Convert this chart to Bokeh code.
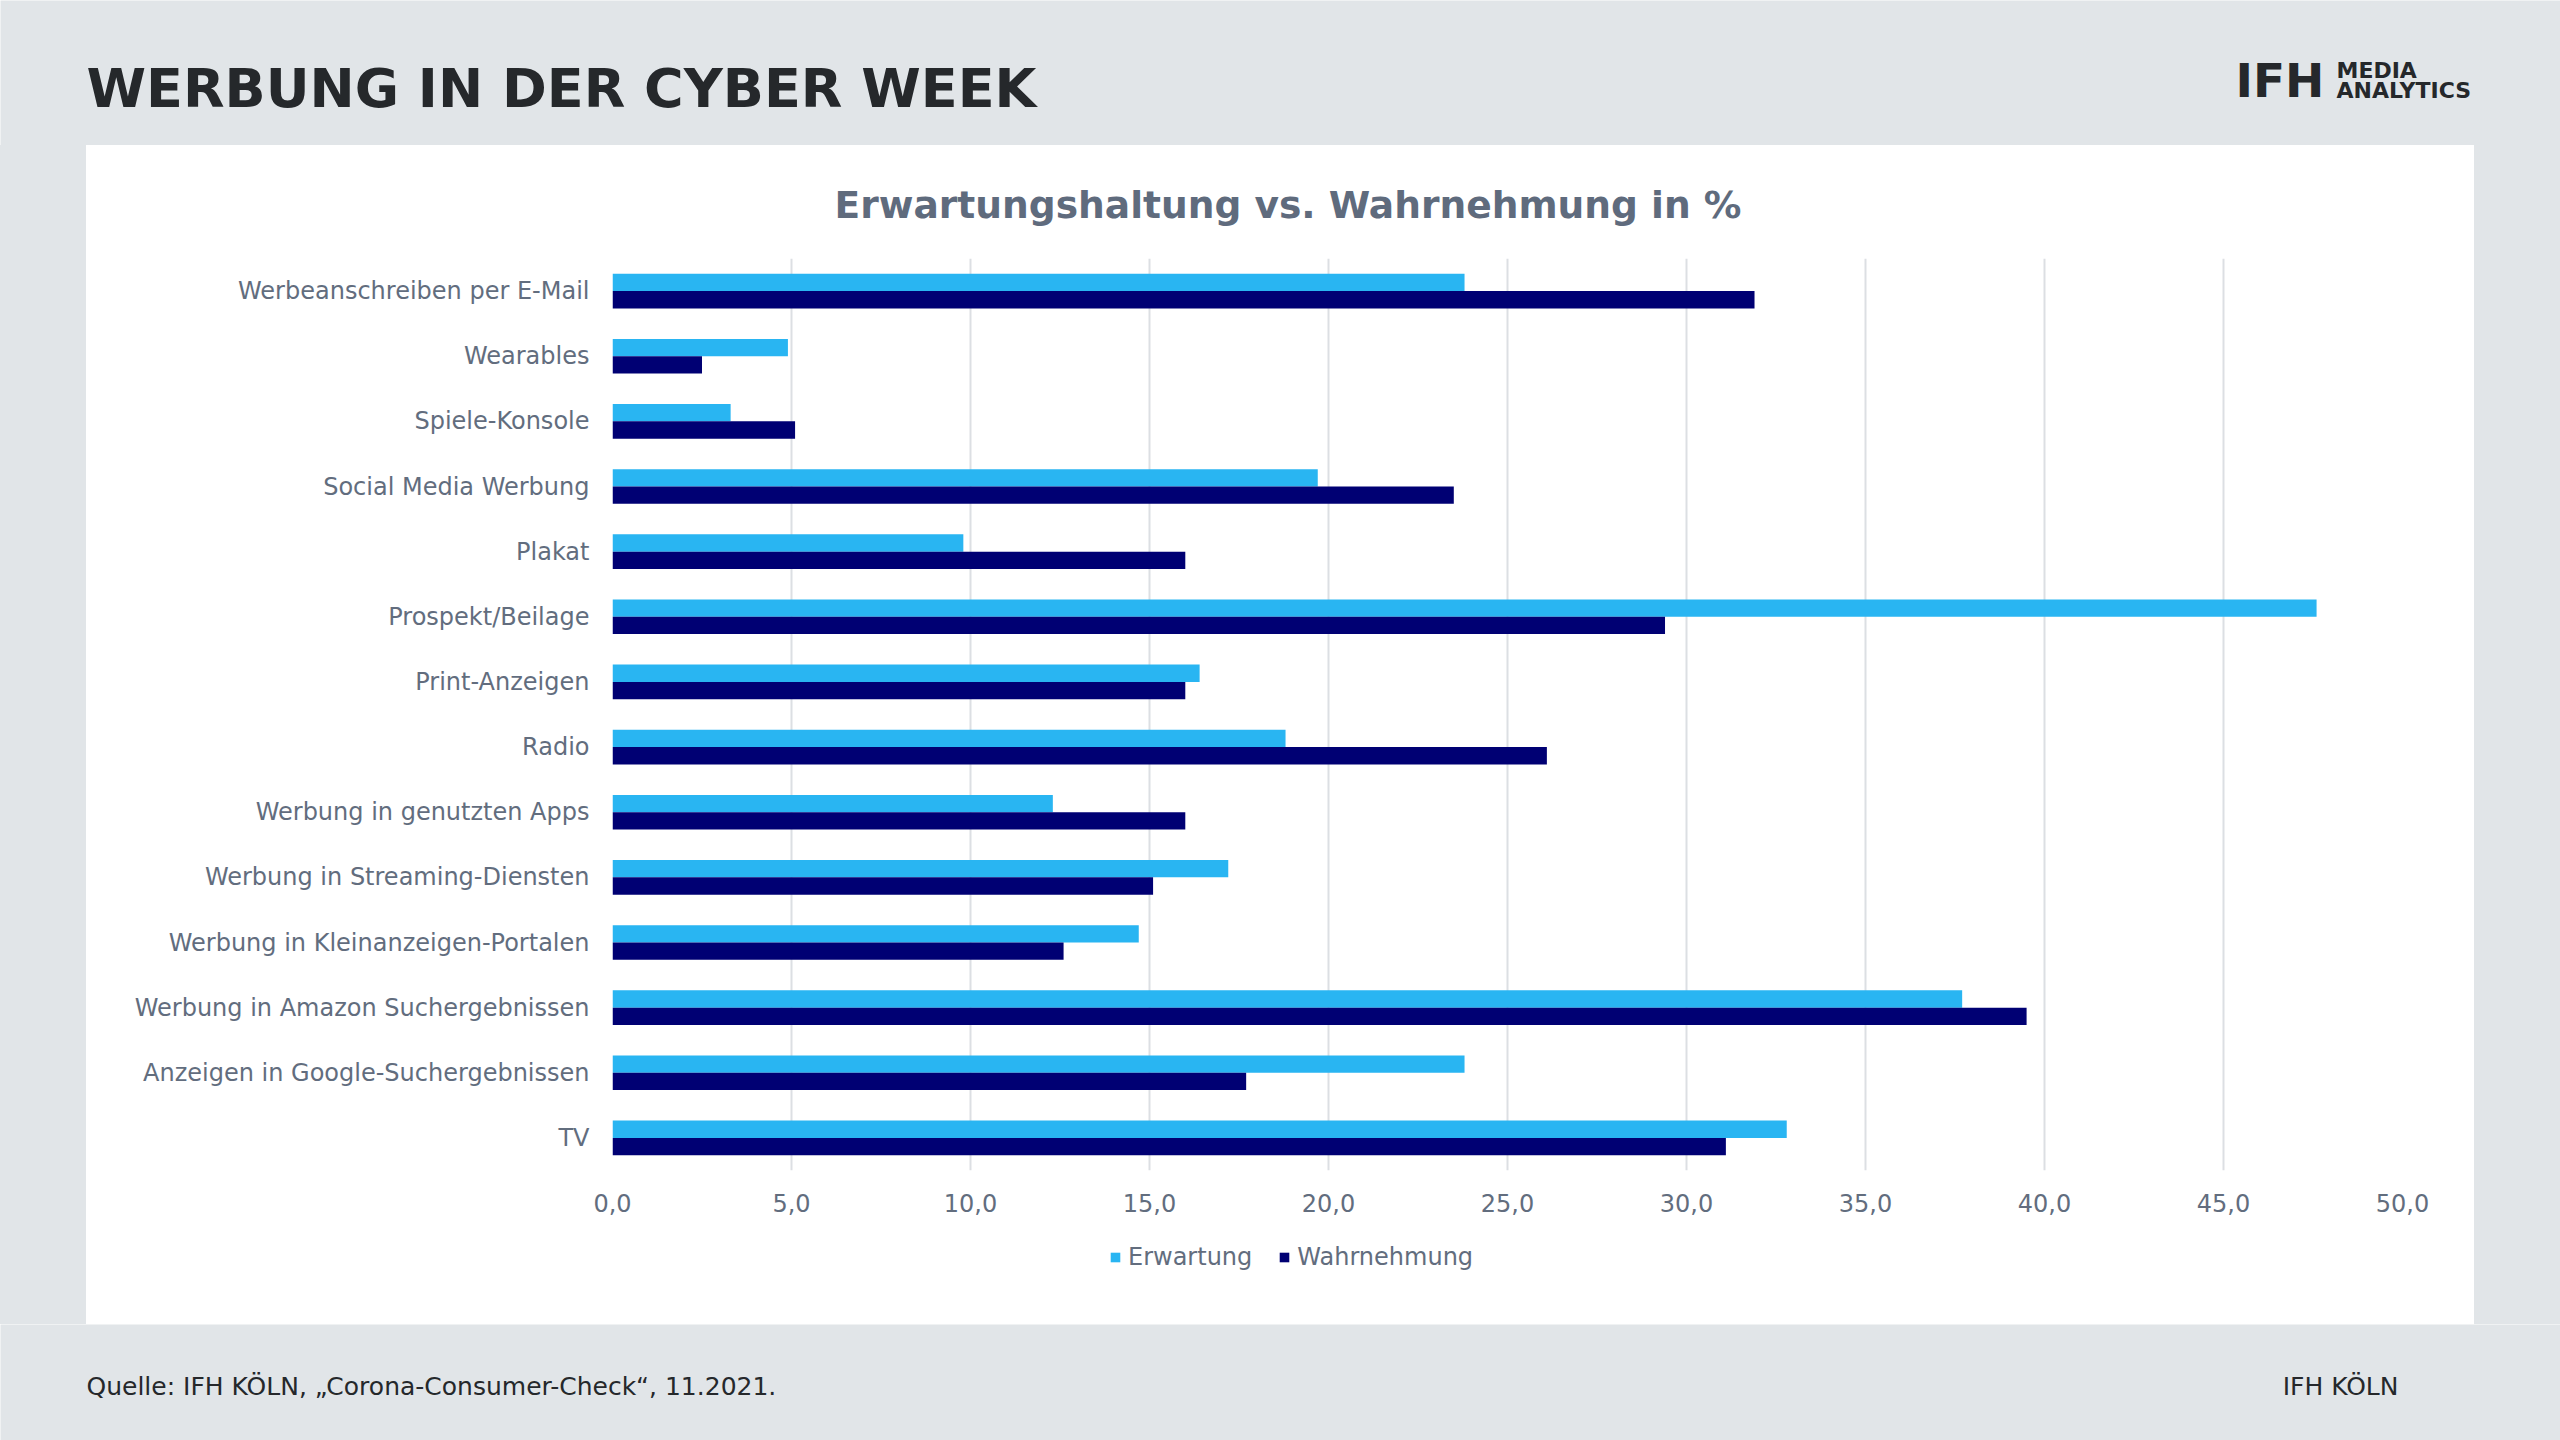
from bokeh.plotting import figure
from bokeh.models import (FactorRange, Range1d, FixedTicker, CustomJSTickFormatter,
                          Legend, LegendItem, ColumnDataSource, Spacer)
from bokeh.layouts import column, row
from bokeh.transform import dodge
from bokeh.core.properties import value
from bokeh.core.validation import silence
from bokeh.core.validation.warnings import MISSING_RENDERERS
from bokeh.embed import file_html
from bokeh.resources import INLINE

silence(MISSING_RENDERERS, True)

# ---------------- data ----------------
categories = [
    "Werbeanschreiben per E-Mail",
    "Wearables",
    "Spiele-Konsole",
    "Social Media Werbung",
    "Plakat",
    "Prospekt/Beilage",
    "Print-Anzeigen",
    "Radio",
    "Werbung in genutzten Apps",
    "Werbung in Streaming-Diensten",
    "Werbung in Kleinanzeigen-Portalen",
    "Werbung in Amazon Suchergebnissen",
    "Anzeigen in Google-Suchergebnissen",
    "TV",
]
erwartung = [23.8, 4.9, 3.3, 19.7, 9.8, 47.6, 16.4, 18.8, 12.3, 17.2, 14.7, 37.7, 23.8, 32.8]
wahrnehmung = [31.9, 2.5, 5.1, 23.5, 16.0, 29.4, 16.0, 26.1, 16.0, 15.1, 12.6, 39.5, 17.7, 31.1]
series_names = ["Erwartung", "Wahrnehmung"]
x_ticks = [0, 5, 10, 15, 20, 25, 30, 35, 40, 45, 50]

main_title = "WERBUNG IN DER CYBER WEEK"
chart_title = "Erwartungshaltung vs. Wahrnehmung in %"
source_note = "Quelle: IFH KÖLN, „Corona-Consumer-Check“, 11.2021."
brand_note = "IFH KÖLN"

# ---------------- style ----------------
BG = "#E1E5E8"
DARK = "#25282B"
GREY = "#626D7E"
C_ERW = "#29B5F2"
C_WAH = "#000073"
FONT = "DejaVu Sans"

TOTAL_W = 2560
HEADER_H = 145
PANEL_W = 2388
PAD_L = 86
PAD_R = TOTAL_W - PANEL_W - PAD_L
PANEL_H = 1179
CHART_H = 1085
LEG_H = PANEL_H - CHART_H
FOOTER_H = 116


def blank(w, h, fill):
    f = figure(width=w, height=h, x_range=Range1d(0, w), y_range=Range1d(0, h),
               x_axis_type=None, y_axis_type=None, toolbar_location=None,
               output_backend="svg", min_border=0)
    f.outline_line_color = None
    f.background_fill_color = fill
    f.border_fill_color = fill
    return f


# ---------------- header ----------------
header = blank(TOTAL_W, HEADER_H, BG)
header.text(x=[86], y=[HEADER_H - 88], text=[main_title], text_font=value(FONT),
            text_font_style="bold", text_font_size="54px", text_color=DARK,
            text_align="left", text_baseline="middle")
header.text(x=[2235], y=[HEADER_H - 80], text=["IFH"], text_font=value(FONT),
            text_font_style="bold", text_font_size="47px", text_color=DARK,
            text_align="left", text_baseline="middle")
header.text(x=[2336, 2336], y=[HEADER_H - 70, HEADER_H - 90], text=["MEDIA", "ANALYTICS"],
            text_font=value(FONT), text_font_style="bold", text_font_size="22px",
            text_color=DARK, text_align="left", text_baseline="middle")

# ---------------- chart ----------------
src = ColumnDataSource(dict(cat=categories, erw=erwartung, wah=wahrnehmung))

p = figure(width=PANEL_W, height=CHART_H,
           y_range=FactorRange(factors=categories[::-1], range_padding=0),
           x_range=Range1d(0, 50),
           toolbar_location=None, output_backend="svg",
           min_border_left=526, min_border_right=72,
           min_border_top=113, min_border_bottom=CHART_H - 113 - 912)
p.outline_line_color = None
p.background_fill_color = "white"
p.border_fill_color = "white"

p.title.text = chart_title
p.title.align = "left"
p.title.offset = 222
p.title.text_font = FONT
p.title.text_font_style = "bold"
p.title.text_font_size = "37.6px"
p.title.text_color = "#5F6B7D"
p.title.standoff = 64

bar_h = 0.266
r1 = p.hbar(y=dodge("cat", bar_h / 2, range=p.y_range), right="erw", left=0, height=bar_h,
            source=src, fill_color=C_ERW, line_color=None)
r2 = p.hbar(y=dodge("cat", -bar_h / 2, range=p.y_range), right="wah", left=0, height=bar_h,
            source=src, fill_color=C_WAH, line_color=None)

p.xaxis.ticker = FixedTicker(ticks=x_ticks)
p.xaxis.formatter = CustomJSTickFormatter(code="return tick.toFixed(1).replace('.', ',');")
for ax in (p.xaxis, p.yaxis):
    ax.axis_line_color = None
    ax.major_tick_line_color = None
    ax.minor_tick_line_color = None
    ax.major_label_text_font = FONT
    ax.major_label_text_font_size = "24px"
    ax.major_label_text_color = GREY
p.xaxis.major_label_standoff = 17
p.yaxis.major_label_standoff = 17

p.ygrid.grid_line_color = None
p.xgrid.grid_line_color = "#DCDFE3"
p.xgrid.grid_line_width = 2

# ---------------- legend strip (proxy glyphs, kept outside the visible range) ----------------
leg = figure(width=PANEL_W, height=LEG_H, x_range=Range1d(0, 1), y_range=Range1d(0, 1),
             x_axis_type=None, y_axis_type=None, toolbar_location=None,
             output_backend="svg", min_border=0)
leg.outline_line_color = None
leg.background_fill_color = "white"
leg.border_fill_color = "white"
proxy = dict(y=[5], right=[0])
l1 = leg.hbar(y="y", right="right", left=0, height=0.1, source=ColumnDataSource(proxy),
              fill_color=C_ERW, line_color=None)
l2 = leg.hbar(y="y", right="right", left=0, height=0.1, source=ColumnDataSource(proxy),
              fill_color=C_WAH, line_color=None)

legend = Legend(items=[LegendItem(label=series_names[0], renderers=[l1]),
                       LegendItem(label=series_names[1], renderers=[l2])],
                orientation="horizontal", location=(497, 53))
legend.glyph_width = 12
legend.glyph_height = 12
legend.label_height = 24
legend.label_text_font = FONT
legend.label_text_font_size = "24px"
legend.label_text_color = GREY
legend.label_standoff = 7
legend.spacing = 26
legend.padding = 0
legend.margin = 0
legend.border_line_color = None
legend.background_fill_alpha = 0
leg.add_layout(legend, "center")

# ---------------- footer ----------------
footer = blank(TOTAL_W, FOOTER_H, BG)
footer.text(x=[86], y=[FOOTER_H - 62], text=[source_note], text_font=value(FONT),
            text_font_size="25px", text_color=DARK, text_align="left", text_baseline="middle")
footer.text(x=[2398], y=[FOOTER_H - 62], text=[brand_note], text_font=value(FONT),
            text_font_size="25px", text_color=DARK, text_align="right", text_baseline="middle")

lpad = Spacer(width=PAD_L, height=PANEL_H, styles={"background-color": BG})
rpad = Spacer(width=PAD_R, height=PANEL_H, styles={"background-color": BG})

panel = column(p, leg, spacing=0)
mid = row(lpad, panel, rpad, spacing=0)
page = column(header, mid, footer, spacing=0)

open("out.html", "w").write(file_html(page, INLINE))
